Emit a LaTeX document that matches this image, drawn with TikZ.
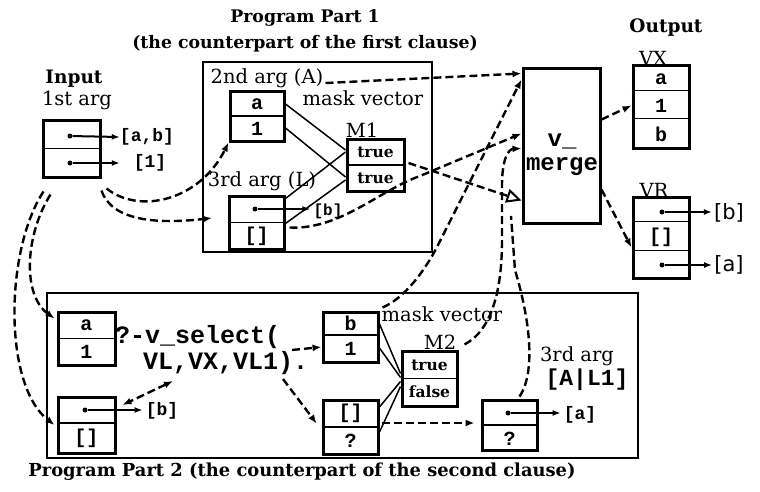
\documentclass[tikz,border=0pt]{standalone}
\usepackage{fontspec}
\setmainfont{DejaVu Serif}
\setmonofont{Liberation Mono}
\newfontfamily\sansf{DejaVu Sans}
\usetikzlibrary{arrows.meta,calc}
\begin{document}
\begin{tikzpicture}[x=1pt,y=-1pt,
  bx/.style={draw, line width=3pt, inner sep=0pt},
  frm/.style={draw, line width=1.8pt, inner sep=0pt},
  dv/.style={line width=1.6pt},
  cellt/.style={font=\fontsize{20}{20}\selectfont\ttfamily\bfseries, inner sep=0pt},
  smt/.style={font=\fontsize{18}{18}\selectfont\ttfamily\bfseries, inner sep=0pt},
  bigt/.style={font=\fontsize{25}{25}\selectfont\ttfamily\bfseries, inner sep=0pt},
  lbl/.style={font=\fontsize{19.5}{20}\selectfont, inner sep=0pt},
  hdr/.style={font=\fontsize{18.5}{20}\selectfont\bfseries, inner sep=0pt},
  ttl/.style={font=\fontsize{17.3}{19}\selectfont\bfseries, inner sep=0pt},
  tf/.style={font=\fontsize{15.5}{16}\selectfont\bfseries, inner sep=0pt},
  sns/.style={font=\fontsize{21}{21}\selectfont\sansf, inner sep=0pt},
  dsh/.style={line width=2.4pt, dash pattern=on 8pt off 4pt, -{Latex[length=9pt,width=7pt]}},
  dshn/.style={line width=2.4pt, dash pattern=on 8pt off 4pt},
  sl/.style={line width=1.5pt},
  ptr/.style={line width=2pt, -{Latex[length=8pt,width=6pt]}},
  pdot/.style={circle, fill, inner sep=0pt, minimum size=5pt},
]
\fill[white] (0,0) rectangle (760,491);
\useasboundingbox (0,0) rectangle (760,491);

% titles
\node[ttl] (t1a) at (305,18) {Program Part 1};
\node[ttl] (t1b) at (305,44) {(the counterpart of the first clause)};
\node[ttl, font=\fontsize{17.9}{19}\selectfont\bfseries] (t2) at (302,472) {Program Part 2 (the counterpart of the second clause)};
\node[hdr] (tin) at (74,79) {Input};
\node[lbl] (targ1) at (77,100) {1st arg};
\node[hdr] (tout) at (666,28) {Output};

% input
\node[bx, minimum width=57pt, minimum height=57pt] (IN) at (71.5,148.5) {};
\draw[dv] (IN.west) -- (IN.east);
\node[pdot] (INd1) at (70,136) {};
\node[pdot] (INd2) at (70,163) {};
\node[smt] (lab) at (147,137) {[a,b]};
\node[smt] (l1) at (150,163) {[1]};
\draw[ptr] (INd1) -- (lab.west);
\draw[ptr] (INd2) -- (INd2 -| lab.west);

% Part 1
\node[frm, minimum width=229pt, minimum height=190pt] (P1) at (317.5,157) {};
\node[lbl] (a2l) at (267,78) {2nd arg (A)};
\node[bx, minimum width=54pt, minimum height=50pt] (A) at (257,116) {};
\draw[dv] (A.west) -- (A.east);
\node[cellt] (Aa) at (257,104) {a};
\node[cellt] (A1) at (257,129) {1};
\node[lbl] (mv1) at (363,98) {mask vector};
\node[lbl] (m1l) at (362,130) {M1};
\node[bx, minimum width=57pt, minimum height=52pt] (M1) at (375.5,165) {};
\draw[dv] (M1.west) -- (M1.east);
\node[tf] (M1a) at (375.5,152) {true};
\node[tf] (M1b) at (375.5,178) {true};
\node[lbl] (a3l) at (262,181) {3rd arg (L)};
\node[bx, minimum width=55pt, minimum height=53pt] (L) at (256.5,222.5) {};
\draw[dv] (L.west) -- (L.east);
\node[pdot] (Ld) at (255,209) {};
\node[font=\fontsize{16}{16}\selectfont\ttfamily\bfseries, inner sep=0pt] (Lb) at (328,211) {[b]};
\draw[ptr, shorten >=3pt] (Ld) -- (Ld -| Lb.west);
\node[cellt] (Le) at (256.5,236) {[]};

\draw[sl] ($(A.east)+(0,-12)$) -- ($(M1.west)+(0,-15)$);
\draw[sl] ($(A.east)+(0,12)$) -- ($(M1.west)+(0,12)$);
\draw[sl] ($(L.east)+(0,-24)$) -- ($(M1.west)+(0,-13)$);
\draw[sl] ($(L.east)+(0,1)$) -- ($(M1.west)+(0,15)$);

% v_merge
\node[bx, minimum width=77pt, minimum height=155pt] (VM) at (561.5,145.5) {};
\node[font=\fontsize{24}{24}\selectfont\ttfamily\bfseries, align=center, inner sep=0pt] (VMt) at (562,155) {v\_\\merge};

% output
\node[lbl] (vxl) at (653,58) {VX};
\node[bx, minimum width=56pt, minimum height=83pt] (VX) at (661,106.5) {};
\draw[dv] ($(VX.north west)+(0,27)$) -- ($(VX.north east)+(0,27)$);
\draw[dv] ($(VX.north west)+(0,55)$) -- ($(VX.north east)+(0,55)$);
\node[cellt] (VXa) at (661,79) {a};
\node[cellt] (VX1) at (661,106) {1};
\node[cellt] (VXb) at (661,134) {b};
\node[lbl] (vrl) at (654,190) {VR};
\node[bx, minimum width=56pt, minimum height=81pt] (VR) at (661,237.5) {};
\draw[dv] ($(VR.north west)+(0,26)$) -- ($(VR.north east)+(0,26)$);
\draw[dv] ($(VR.north west)+(0,55)$) -- ($(VR.north east)+(0,55)$);
\node[pdot] (VRd1) at (662,212) {};
\node[sns] (VRb) at (729,213) {[b]};
\draw[ptr, shorten >=2pt] (VRd1) -- (VRd1 -| VRb.west);
\node[cellt] (VRe) at (661,237) {[]};
\node[pdot] (VRd2) at (662,265) {};
\node[sns] (VRa) at (729,265) {[a]};
\draw[ptr, shorten >=2pt] (VRd2) -- (VRd2 -| VRa.west);

% Part 2
\node[frm, minimum width=591pt, minimum height=165pt] (P2) at (342.5,375.5) {};
\node[bx, minimum width=57pt, minimum height=53pt] (A2) at (86.5,338.5) {};
\draw[dv] (A2.west) -- (A2.east);
\node[cellt] (A2a) at (86.5,325) {a};
\node[cellt] (A2b) at (86.5,352) {1};
\node[bigt, anchor=west] (vs1) at (115,337) {?-v\_select(};
\node[bigt, anchor=west] (vs2) at (143,363) {VL,VX,VL1).};
\node[bx, minimum width=57pt, minimum height=56pt] (L2) at (86.5,425) {};
\draw[dv] ($(L2.west)+(0,-2)$) -- ($(L2.east)+(0,-2)$);
\node[pdot] (L2d) at (85,410) {};
\node[smt] (L2b) at (162,411) {[b]};
\draw[ptr, shorten >=3pt] (L2d) -- (L2d -| L2b.west);
\node[cellt] (L2e) at (86.5,438) {[]};

\node[bx, minimum width=55pt, minimum height=50pt] (B2) at (350.5,337) {};
\draw[dv] ($(B2.west)+(0,-2)$) -- ($(B2.east)+(0,-2)$);
\node[cellt] (B2b) at (350.5,323.5) {b};
\node[cellt] (B21) at (350.5,349) {1};
\node[bx, minimum width=55pt, minimum height=54pt] (C2) at (350.5,427) {};
\draw[dv] (C2.west) -- (C2.east);
\node[cellt] (C2e) at (350.5,413.5) {[]};
\node[cellt] (C2q) at (350.5,441) {?};
\node[lbl] (mv2) at (442,314) {mask vector};
\node[lbl] (m2l) at (440,342) {M2};
\node[bx, minimum width=55pt, minimum height=55pt] (M2) at (429.5,378.5) {};
\draw[dv] (M2.west) -- (M2.east);
\node[tf] (M2a) at (429.5,365) {true};
\node[tf] (M2b) at (429.5,392) {false};
\draw[sl] ($(B2.east)+(0,-13)$) -- ($(M2.west)+(0,-5)$);
\draw[sl] ($(B2.east)+(0,11)$) -- ($(M2.west)+(0,-1)$);
\draw[sl] ($(C2.east)+(0,-20)$) -- ($(M2.west)+(0,3)$);
\draw[sl] ($(C2.east)+(0,5)$) -- ($(M2.west)+(0,8)$);

\node[lbl] (a3l2) at (577,356) {3rd arg};
\node[font=\fontsize{23}{23}\selectfont\ttfamily\bfseries, inner sep=0pt] (alt) at (587,380) {[A|L1]};
\node[bx, minimum width=55pt, minimum height=50pt] (Q) at (509.5,425) {};
\draw[dv] (Q.west) -- (Q.east);
\node[pdot] (Qd) at (508,413) {};
\node[smt] (Qa) at (580,415) {[a]};
\draw[ptr, shorten >=3pt] (Qd) -- (Qd -| Qa.west);
\node[cellt] (Qq) at (509.5,439) {?};

% dashed connectors, part 1
\draw[dsh] ($(a2l.east)+(2,5)$) -- ($(VM.north west)+(0,7)$);
\draw[dsh] ($(IN.south east)+(5,10)$) .. controls (140,215) and (200,200) .. (A.south west);
\coordinate (Lin) at (212,218);
\draw[dsh] ($(IN.south east)+(0,12)$) .. controls (112,222) and (160,224) .. (Lin);
\draw[dsh] ($(L.east)+(4,5)$) .. controls (340,230) and (380,190) .. (420,176) -- ($(VM.west)+(0,-12)$);
\draw[line width=2.4pt, dash pattern=on 8pt off 4pt, -{Triangle[open,length=15pt,width=14pt,line width=2pt]}] ($(M1.east)+(3,-2)$) -- ($(VM.west)+(0,55)$);
\draw[dsh] ($(M2.north east)+(6,-5)$) .. controls (492,330) and (502,290) .. (502,240) -- (502,185) .. controls (502,160) and (508,149) .. ($(VM.west)+(0,3)$);
\draw[dshn] ($(Q.north)+(10,-2)$) .. controls (536,372) and (530,320) .. (515,270) -- (511,216);
\draw[dsh] ($(B2.north east)+(3,-3)$) .. controls (405,298) and (425,270) .. (437,247) -- ($(VM.north west)+(0,13)$);
\draw[dsh] ($(VM.east)+(0,-26)$) -- ($(VX.west)+(0,-1)$);
\draw[dsh] ($(VM.east)+(0,44)$) -- ($(VR.west)+(0,10)$);

% dashed connectors, part 2
\draw[dsh] ($(IN.south west)+(9,16)$) .. controls (25,235) and (22,295) .. ($(A2.north west)+(-2,8)$);
\draw[dsh] ($(IN.south west)+(2,13)$) .. controls (5,250) and (3,385) .. ($(L2.west)+(-2,0)$);
\coordinate (vlp) at (173,381);
\coordinate (vl1p) at (292,350);
\coordinate (vl1q) at (283,379);
\draw[line width=2.4pt, dash pattern=on 8pt off 4pt, {Latex[length=9pt,width=7pt]}-{Latex[length=9pt,width=7pt]}] (vlp) -- ($(L2.east)+(6,-20)$);
\draw[dsh] (vl1p) -- ($(B2.west)+(0,10)$);
\draw[dsh, shorten >=8pt] (vl1q) -- ($(C2.west)+(0,3)$);
\draw[dsh, shorten >=6pt] ($(C2.east)+(2,-4)$) -- ($(Q.west)+(0,-2)$);
\end{tikzpicture}
\end{document}
